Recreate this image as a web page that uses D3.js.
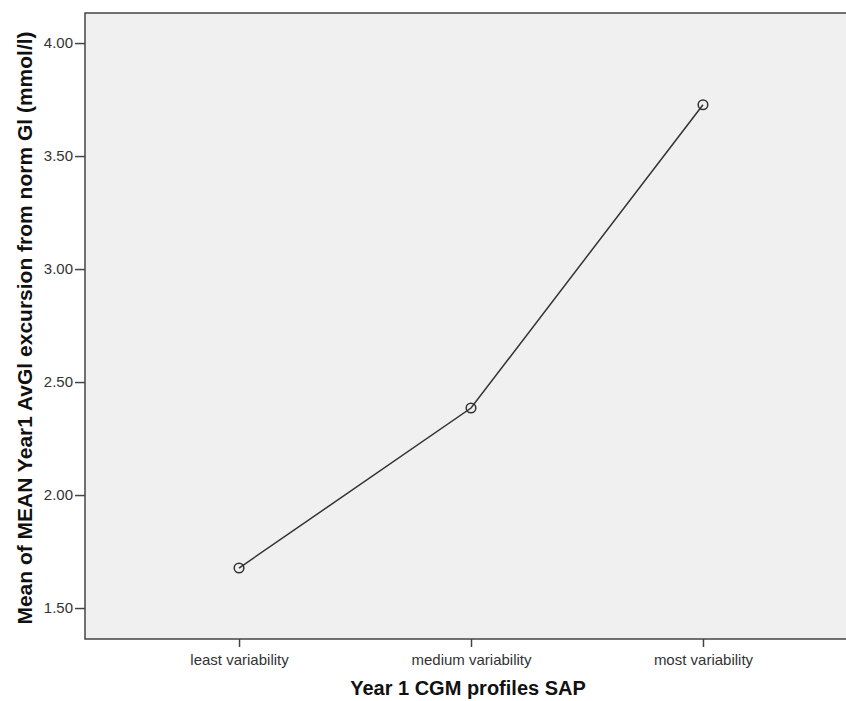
<!DOCTYPE html>
<html><head><meta charset="utf-8">
<script src="https://cdn.jsdelivr.net/npm/d3@7"></script>
<style>body{margin:0;background:#fff;} svg{display:block;}</style>
</head><body>
<svg id="c" width="846" height="701"></svg>
<script>
const categories = ["least variability", "medium variability", "most variability"];
const values = [1.677, 2.385, 3.727];
const yTicks = [1.5, 2.0, 2.5, 3.0, 3.5, 4.0];
const xTitle = "Year 1 CGM profiles SAP";
const yTitle = "Mean of MEAN Year1 AvGl excursion from norm Gl (mmol/l)";

const svg = d3.select("#c");
const L = 85, T = 13, R = 857, B = 639;
const x = d3.scalePoint().domain(categories).range([L, R]).padding(0.664);
const y = d3.scaleLinear().domain([1.363, 4.133]).range([B, T]);

svg.append("rect").attr("x", L).attr("y", T).attr("width", R - L).attr("height", B - T)
  .attr("fill", "#f0f0f0").attr("stroke", "#444").attr("stroke-width", 1.5);

const font = "Arial, 'Liberation Sans', sans-serif";
const ya = svg.append("g").attr("transform", `translate(${L},0)`)
  .call(d3.axisLeft(y).tickValues(yTicks).tickFormat(d3.format(".2f")).tickSize(10).tickPadding(2));
ya.select(".domain").remove();
ya.selectAll("line").attr("stroke", "#444").attr("stroke-width", 1.5);
ya.selectAll("text").attr("font-family", font).attr("font-size", 15).attr("fill", "#333");

const xa = svg.append("g").attr("transform", `translate(0,${B})`)
  .call(d3.axisBottom(x).tickSize(8).tickPadding(7));
xa.select(".domain").remove();
xa.selectAll("line").attr("stroke", "#444").attr("stroke-width", 1.5);
xa.selectAll("text").attr("font-family", font).attr("font-size", 15).attr("fill", "#333");

const line = d3.line().x((d, i) => x(categories[i])).y(d => y(d));
svg.append("path").datum(values).attr("d", line).attr("fill", "none").attr("stroke", "#333").attr("stroke-width", 1.5);
svg.selectAll("circle.pt").data(values).join("circle").attr("class", "pt")
  .attr("cx", (d, i) => x(categories[i])).attr("cy", d => y(d)).attr("r", 4.8)
  .attr("fill", "none").attr("stroke", "#333").attr("stroke-width", 1.5);

svg.append("text").attr("x", 468).attr("y", 695).attr("text-anchor", "middle")
  .attr("font-family", font).attr("font-weight", "bold")
  .attr("font-size", 20).attr("fill", "#111").text(xTitle);
svg.append("text").attr("transform", "translate(32,328) rotate(-90)").attr("text-anchor", "middle")
  .attr("font-family", font).attr("font-weight", "bold")
  .attr("font-size", 21).attr("fill", "#111").text(yTitle);
</script>
</body></html>
